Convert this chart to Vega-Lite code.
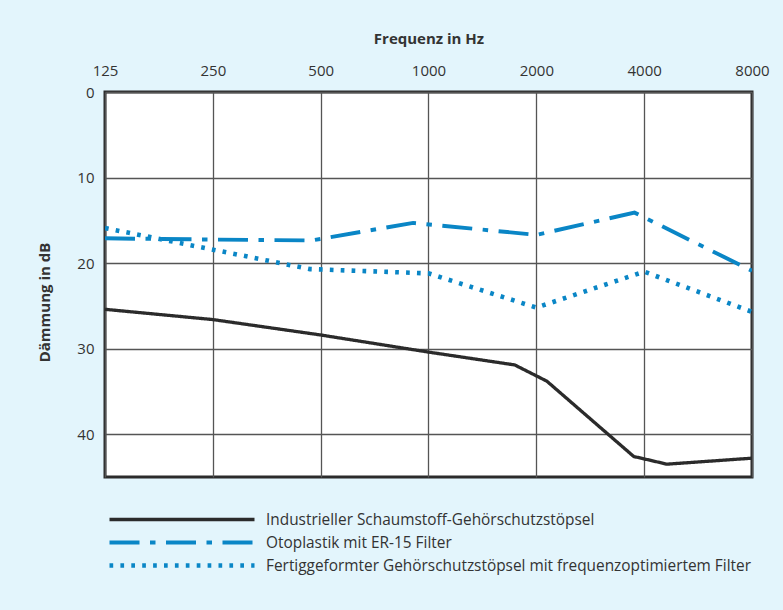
{
  "$schema": "https://vega.github.io/schema/vega-lite/v6.json",
  "width": 647,
  "height": 385,
  "autosize": {"type": "none"},
  "padding": {"left": 105, "top": 92, "right": 31, "bottom": 133},
  "background": "#e3f5fc",
  "config": {
    "view": {"stroke": "#2b2b2b", "strokeWidth": 3, "fill": "white"},
    "font": "Open Sans"
  },
  "data": {
    "values": [
      {"f": 125, "v": 25.4, "s": "Industrieller Schaumstoff-Gehörschutzstöpsel"},
      {"f": 250, "v": 26.6, "s": "Industrieller Schaumstoff-Gehörschutzstöpsel"},
      {"f": 500, "v": 28.4, "s": "Industrieller Schaumstoff-Gehörschutzstöpsel"},
      {"f": 1000, "v": 30.4, "s": "Industrieller Schaumstoff-Gehörschutzstöpsel"},
      {"f": 1740, "v": 31.9, "s": "Industrieller Schaumstoff-Gehörschutzstöpsel"},
      {"f": 2140, "v": 33.8, "s": "Industrieller Schaumstoff-Gehörschutzstöpsel"},
      {"f": 3740, "v": 42.6, "s": "Industrieller Schaumstoff-Gehörschutzstöpsel"},
      {"f": 4630, "v": 43.5, "s": "Industrieller Schaumstoff-Gehörschutzstöpsel"},
      {"f": 8000, "v": 42.8, "s": "Industrieller Schaumstoff-Gehörschutzstöpsel"},
      {"f": 125, "v": 17.1, "s": "Otoplastik mit ER-15 Filter"},
      {"f": 250, "v": 17.25, "s": "Otoplastik mit ER-15 Filter"},
      {"f": 472, "v": 17.35, "s": "Otoplastik mit ER-15 Filter"},
      {"f": 906, "v": 15.3, "s": "Otoplastik mit ER-15 Filter"},
      {"f": 2000, "v": 16.7, "s": "Otoplastik mit ER-15 Filter"},
      {"f": 3760, "v": 14.1, "s": "Otoplastik mit ER-15 Filter"},
      {"f": 8000, "v": 20.9, "s": "Otoplastik mit ER-15 Filter"},
      {"f": 125, "v": 15.9, "s": "Fertiggeformter Gehörschutzstöpsel mit frequenzoptimiertem Filter"},
      {"f": 467, "v": 20.7, "s": "Fertiggeformter Gehörschutzstöpsel mit frequenzoptimiertem Filter"},
      {"f": 1000, "v": 21.2, "s": "Fertiggeformter Gehörschutzstöpsel mit frequenzoptimiertem Filter"},
      {"f": 2000, "v": 25.2, "s": "Fertiggeformter Gehörschutzstöpsel mit frequenzoptimiertem Filter"},
      {"f": 4000, "v": 21.0, "s": "Fertiggeformter Gehörschutzstöpsel mit frequenzoptimiertem Filter"},
      {"f": 8000, "v": 25.7, "s": "Fertiggeformter Gehörschutzstöpsel mit frequenzoptimiertem Filter"}
    ]
  },
  "mark": {"type": "line", "strokeCap": "butt", "clip": true},
  "encoding": {
    "x": {
      "field": "f",
      "type": "quantitative",
      "scale": {"type": "log", "base": 2, "domain": [125, 8000], "nice": false},
      "axis": {
        "orient": "top",
        "values": [125, 250, 500, 1000, 2000, 4000, 8000],
        "format": "d",
        "title": "Frequenz in Hz",
        "grid": true,
        "gridColor": "#555555",
        "gridWidth": 1.3,
        "gridOpacity": 1,
        "ticks": false,
        "tickSize": 0,
        "domain": false,
        "labelFlush": false,
        "labelBound": false,
        "labelPadding": 14,
        "labelFontSize": 15,
        "labelColor": "#333333",
        "titleFontSize": 15,
        "titleFontWeight": "bold",
        "titleColor": "#333333",
        "titlePadding": 17
      }
    },
    "y": {
      "field": "v",
      "type": "quantitative",
      "scale": {"domain": [0, 45], "reverse": true, "nice": false, "zero": false},
      "axis": {
        "values": [0, 10, 20, 30, 40],
        "title": "Dämmung in dB",
        "grid": true,
        "gridColor": "#555555",
        "gridWidth": 1.3,
        "gridOpacity": 1,
        "ticks": false,
        "tickSize": 0,
        "domain": false,
        "labelPadding": 11,
        "labelFontSize": 15,
        "labelColor": "#333333",
        "titleFontSize": 15,
        "titleFontWeight": "bold",
        "titleColor": "#333333",
        "titlePadding": 24,
        "titleY": 210
      }
    },
    "color": {
      "field": "s",
      "type": "nominal",
      "scale": {
        "domain": ["Industrieller Schaumstoff-Gehörschutzstöpsel", "Otoplastik mit ER-15 Filter", "Fertiggeformter Gehörschutzstöpsel mit frequenzoptimiertem Filter"],
        "range": ["#2b2b2b", "#0a86c6", "#0a86c6"]
      },
      "legend": {
        "orient": "none",
        "legendX": 2,
        "legendY": 416,
        "title": null,
        "padding": 0,
        "rowPadding": 0,
        "symbolType": "stroke",
        "symbolSize": 21025,
        "clipHeight": 23,
        "labelOffset": 9,
        "labelFontSize": 15.4,
        "labelColor": "#333333",
        "labelLimit": 700
      }
    },
    "strokeDash": {
      "field": "s",
      "type": "nominal",
      "scale": {
        "domain": ["Industrieller Schaumstoff-Gehörschutzstöpsel", "Otoplastik mit ER-15 Filter", "Fertiggeformter Gehörschutzstöpsel mit frequenzoptimiertem Filter"],
        "range": [[1, 0], [30, 10.5, 5.5, 10.5], [3.7, 7.2]]
      }
    },
    "strokeWidth": {
      "field": "s",
      "type": "nominal",
      "scale": {
        "domain": ["Industrieller Schaumstoff-Gehörschutzstöpsel", "Otoplastik mit ER-15 Filter", "Fertiggeformter Gehörschutzstöpsel mit frequenzoptimiertem Filter"],
        "range": [3.3, 4.6, 3.9]
      }
    }
  }
}
